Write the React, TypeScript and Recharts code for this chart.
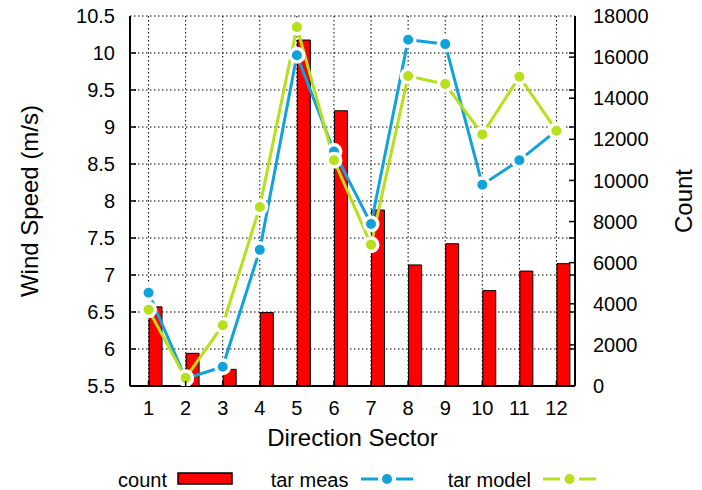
import { ComposedChart, Bar, Line, XAxis, YAxis, CartesianGrid, Label } from "recharts";

// sector-wise counts and mean wind speeds
const sectors = [1, 2, 3, 4, 5, 6, 7, 8, 9, 10, 11, 12];
const counts = [3850, 1590, 810, 3570, 16830, 13390, 8560, 5890, 6920, 4640, 5590, 5950];
const tarMeas = [6.76, 5.6, 5.76, 7.34, 9.97, 8.67, 7.69, 10.18, 10.12, 8.22, 8.55, 8.95];
const tarModel = [6.53, 5.61, 6.32, 7.92, 10.35, 8.55, 7.41, 9.69, 9.58, 8.9, 9.68, 8.95];

const speedTicks = [5.5, 6, 6.5, 7, 7.5, 8, 8.5, 9, 9.5, 10, 10.5];
const countTicks = [0, 2000, 4000, 6000, 8000, 10000, 12000, 14000, 16000, 18000];

const W = 702;
const H = 490;
const PLOT = { left: 130, right: 575, top: 16, bottom: 386 };

const RED = "#ff0000";
const BLUE = "#12a2db";
const GREEN = "#b6e01a";
const FONT = '"Liberation Sans", Arial, Helvetica, sans-serif';

const data = sectors.map((s, i) => ({
  sector: s,
  count: counts[i],
  meas: tarMeas[i],
  model: tarModel[i],
}));

function SpeedTick({ x, y, payload }: any) {
  const v = payload.value;
  const inner = v > speedTicks[0] && v < speedTicks[speedTicks.length - 1];
  return (
    <g>
      <text x={x} y={y} dy="0.355em" textAnchor="end" fontSize={20} fill="#000">
        {v}
      </text>
      {inner && <line x1={PLOT.left} x2={PLOT.left + 6} y1={y} y2={y} stroke="#000" strokeWidth={1.5} />}
      {inner && <line x1={PLOT.right} x2={PLOT.right - 6} y1={y} y2={y} stroke="#000" strokeWidth={1.5} />}
    </g>
  );
}

function CountTick({ x, y, payload }: any) {
  const v = payload.value;
  const inner = v > countTicks[0] && v < countTicks[countTicks.length - 1];
  return (
    <g>
      <text x={x} y={y} dy="0.355em" textAnchor="start" fontSize={20} fill="#000">
        {v}
      </text>
      {inner && <line x1={PLOT.right} x2={PLOT.right - 6} y1={y} y2={y} stroke="#000" strokeWidth={1.5} />}
    </g>
  );
}

function SectorTick({ x, y, payload }: any) {
  return (
    <g>
      <text x={x} y={y} dy="0.71em" textAnchor="middle" fontSize={20} fill="#000">
        {payload.value}
      </text>
      <line x1={x} x2={x} y1={PLOT.bottom} y2={PLOT.bottom - 5} stroke="#000" strokeWidth={1.5} />
    </g>
  );
}

function TopTick({ x }: any) {
  return <line x1={x} x2={x} y1={PLOT.top} y2={PLOT.top + 5} stroke="#000" strokeWidth={1.5} />;
}

const dotStyle = (color: string) => ({ r: 6.75, fill: color, stroke: "#fff", strokeWidth: 3.5 });

function LegendOverlay() {
  const y = 479;
  return (
    <svg
      width={W}
      height={H}
      style={{ position: "absolute", left: 0, top: 0, pointerEvents: "none" }}
      fontFamily={FONT}
      fontSize={20}
    >
      <text x={167} y={487} textAnchor="end" fill="#000">count</text>
      <rect x={178} y={473} width={54} height={11} fill={RED} stroke="#000" strokeWidth={1.5} />

      <text x={348.5} y={487} textAnchor="end" fill="#000">tar meas</text>
      <line x1={361} x2={378} y1={y} y2={y} stroke={BLUE} strokeWidth={3} />
      <line x1={396} x2={413} y1={y} y2={y} stroke={BLUE} strokeWidth={3} />
      <circle cx={387} cy={y} r={5} fill={BLUE} />

      <text x={531} y={487} textAnchor="end" fill="#000">tar model</text>
      <line x1={543} x2={560} y1={y} y2={y} stroke={GREEN} strokeWidth={3} />
      <line x1={579} x2={596} y1={y} y2={y} stroke={GREEN} strokeWidth={3} />
      <circle cx={569.5} cy={y} r={5} fill={GREEN} />
    </svg>
  );
}

export default function App() {
  return (
    <div style={{ position: "absolute", left: 0, top: 0, width: W, height: H, background: "#fff", fontFamily: FONT }}>
      <ComposedChart
        width={W}
        height={H}
        data={data}
        margin={{ top: PLOT.top, right: 0, bottom: 40, left: 0 }}
        barGap={0}
      >
        <CartesianGrid yAxisId="left" stroke="#000" strokeWidth={1} strokeDasharray="1.5 2.5" />
        <XAxis
          dataKey="sector"
          height={64}
          tickSize={0}
          tickMargin={15}
          tick={<SectorTick />}
          axisLine={{ stroke: "#000", strokeWidth: 2 }}
          tickLine={false}
          interval={0}
        >
          <Label value="Direction Sector" position="insideBottom" offset={4} style={{ fontSize: 24, fill: "#000" }} />
        </XAxis>
        <XAxis
          xAxisId="top"
          dataKey="sector"
          orientation="top"
          height={0}
          tickSize={0}
          tickMargin={0}
          tick={<TopTick />}
          tickLine={false}
          axisLine={{ stroke: "#000", strokeWidth: 2 }}
          interval={0}
        />
        <YAxis
          yAxisId="left"
          width={130}
          domain={[5.5, 10.5]}
          ticks={speedTicks}
          tickSize={0}
          tickMargin={15}
          tick={<SpeedTick />}
          tickLine={false}
          axisLine={{ stroke: "#000", strokeWidth: 2 }}
          allowDataOverflow
        >
          <Label
            value="Wind Speed (m/s)"
            angle={-90}
            position="insideLeft"
            offset={29}
            style={{ textAnchor: "middle", fontSize: 24, fill: "#000" }}
          />
        </YAxis>
        <YAxis
          yAxisId="right"
          orientation="right"
          width={127}
          domain={[0, 18000]}
          ticks={countTicks}
          tickSize={0}
          tickMargin={18}
          tick={<CountTick />}
          tickLine={false}
          axisLine={{ stroke: "#000", strokeWidth: 2 }}
        >
          <Label
            value="Count"
            angle={-90}
            position="insideRight"
            offset={19}
            style={{ textAnchor: "middle", fontSize: 24, fill: "#000" }}
          />
        </YAxis>

        {/* empty slot so each count bar starts at its sector tick */}
        <Bar yAxisId="right" dataKey="pad" barSize={13} fill="none" isAnimationActive={false} legendType="none" />
        <Bar yAxisId="right" dataKey="count" barSize={13} fill={RED} stroke="#000" strokeWidth={1} isAnimationActive={false} />

        <Line
          yAxisId="left"
          type="linear"
          dataKey="meas"
          stroke={BLUE}
          strokeWidth={3}
          dot={dotStyle(BLUE)}
          activeDot={false}
          isAnimationActive={false}
        />
        <Line
          yAxisId="left"
          type="linear"
          dataKey="model"
          stroke={GREEN}
          strokeWidth={3}
          dot={dotStyle(GREEN)}
          activeDot={false}
          isAnimationActive={false}
        />
      </ComposedChart>
      <LegendOverlay />
    </div>
  );
}
